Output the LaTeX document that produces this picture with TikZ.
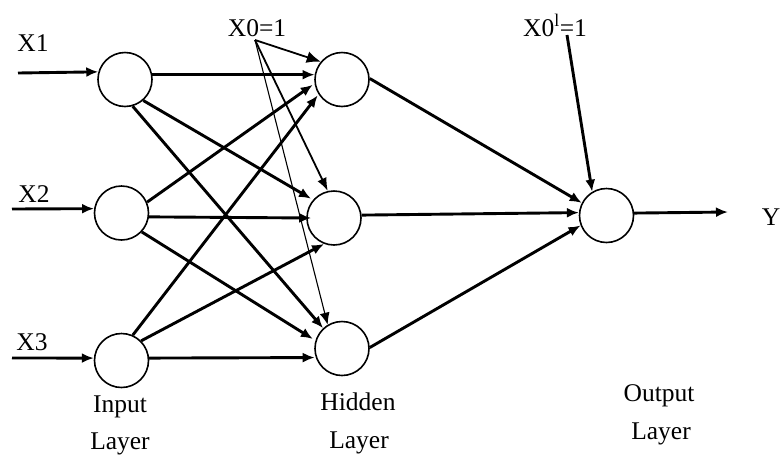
\documentclass[tikz,border=0pt]{standalone}
\usepackage{fontspec}
\setmainfont{Liberation Serif}
\usetikzlibrary{arrows.meta}
\begin{document}
\begin{tikzpicture}[x=1pt,y=-1pt,
  neuron/.style={circle,draw,line width=1.6pt,minimum size=54pt,inner sep=0pt},
  lbl/.style={anchor=base,inner sep=0pt,font=\fontsize{25.5}{30}\selectfont},
  wire/.style={line width=2.9pt,-{Latex[length=12pt,width=10pt]}},
  biasA/.style={line width=1.8pt,-{Latex[length=14pt,width=12pt]}},
  biasB/.style={line width=1.8pt,-{Latex[length=13pt,width=10pt]}},
  biasC/.style={line width=1.1pt,-{Latex[length=12pt,width=10pt]}}]
\useasboundingbox (0,0) rectangle (782,456);
% neurons
\node[neuron] (I1) at (125,79.5) {};
\node[neuron] (I2) at (121.5,213) {};
\node[neuron] (I3) at (121.5,360.5) {};
\node[neuron] (H1) at (342,79.5) {};
\node[neuron] (H2) at (334,218) {};
\node[neuron] (H3) at (342,348.5) {};
\node[neuron] (O) at (606.5,215.5) {};
% labels
\node[lbl] (tX1) at (33,51) {X1};
\node[lbl] (tX2) at (34,202) {X2};
\node[lbl] (tX3) at (32,350) {X3};
\node[lbl] (tX0) at (257,36) {X0=1};
\node[lbl] (tX0b) at (555,36) {X0\textsuperscript{l}=1};
\node[lbl] (tY) at (771,225) {Y};
\node[lbl] (tIn1) at (120,412) {Input};
\node[lbl] (tIn2) at (120,449) {Layer};
\node[lbl] (tHi1) at (358,410) {Hidden};
\node[lbl] (tHi2) at (359,448) {Layer};
\node[lbl] (tOu1) at (659,401) {Output};
\node[lbl] (tOu2) at (661,439) {Layer};
% free ends
\coordinate (in1) at (18,73);
\coordinate (in2) at (12,209);
\coordinate (in3) at (12,358);
\coordinate (b0) at (255,40);
\coordinate (b1) at (567,35);
\coordinate (yend) at (728,212);
% input arrows
\draw[wire] (in1) -- (I1.164);
\draw[wire] (in2) -- (I2.171);
\draw[wire] (in3) -- (I3.175);
% input -> hidden
\draw[wire] (I1.10) -- (H1.170);
\draw[wire] (I1.-49) -- ([shift={(-3,0)}]H2.136);
\draw[wire] (I1.-74) -- (H3.133);
\draw[wire] (I2.23) -- ([shift={(-2,0)}]H1.191);
\draw[wire] (I2.-8) -- ([shift={(5,0)}]H2.180);
\draw[wire] (I2.-43) -- ([shift={(-3,0)}]H3.160);
\draw[wire] (I3.66) -- ([shift={(-3,-2)}]H1.220);
\draw[wire] (I3.45) -- (H2.249);
\draw[wire] (I3.5) -- ([shift={(-1,0)}]H3.199);
% bias to hidden
\draw[biasA] (b0) -- (H1.140);
\draw[biasB] (b0) -- (H2.103);
\draw[biasC] (b0) -- (H3.121);
% hidden -> output
\draw[wire] (H1.2) -- (O.153);
\draw[wire] (H2.6) -- (O.174);
\draw[wire] (H3.2) -- (O.201);
\draw[wire] (b1) -- (O.121);
% output
\draw[wire] (O.5) -- (yend);
\end{tikzpicture}
\end{document}
